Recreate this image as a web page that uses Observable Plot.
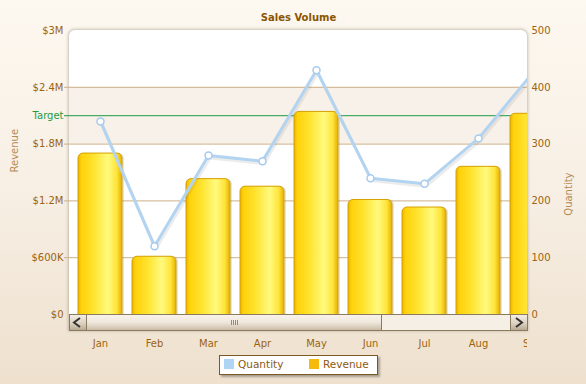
<!DOCTYPE html>
<html>
<head>
<meta charset="utf-8">
<script src="https://cdn.jsdelivr.net/npm/d3@7"></script>
<script src="https://cdn.jsdelivr.net/npm/@observablehq/plot@0.6"></script>
<style>
html, body { margin: 0; padding: 0; }
body {
  width: 586px; height: 384px; overflow: hidden;
  background: linear-gradient(to bottom, #fdf8f0 0%, #f7efe4 50%, #eee0cd 100%);
  font-family: "DejaVu Sans", Verdana, sans-serif;
}
#wrap { position: relative; width: 586px; height: 384px; }
#box {
  position: absolute; left: 69px; top: 30px; width: 458px; height: 300px;
  background: #fff; border-radius: 6px 6px 0 0;
  box-shadow: 0 0 3px 1px rgba(100, 90, 70, 0.35);
}
#chart { position: absolute; left: 0; top: 0; }
#scroll {
  position: absolute; left: 69px; top: 314px; width: 459px; height: 17px;
  box-sizing: border-box; border: 1px solid #8a7a5f; background: #f6efe5;
}
#scroll .btn {
  position: absolute; top: 0; width: 16px; height: 15px;
  background: linear-gradient(to bottom, #f4eee5 0%, #ddd1c0 55%, #b9aa94 100%);
}
#scroll .left { left: 0; border-right: 1px solid #8a7a5f; }
#scroll .right { right: 0; border-left: 1px solid #8a7a5f; }
#scroll .thumb {
  position: absolute; left: 17px; top: 0; width: 294px; height: 15px;
  background: linear-gradient(to bottom, #f8f3ec 0%, #efe7dc 50%, #cbbca7 100%);
  border-right: 1px solid #8a7a5f;
}
#scroll .grip { position: absolute; top: 5px; width: 1px; height: 5px; background: #9a8a70; }
#legend {
  position: absolute; left: 219px; top: 355px; width: 159px; height: 20px;
  box-sizing: border-box; background: #fff; border: 1.5px solid #7a5a20;
  box-shadow: 2px 2px 2px rgba(0,0,0,0.3);
  font-size: 10.5px; color: #8b5a10;
}
#legend .sw { position: absolute; top: 3px; width: 10px; height: 10px; }
#legend .lb { position: absolute; top: 2px; line-height: 12px; }
</style>
</head>
<body>
<div id="wrap">
  <div id="box"></div>
  <div id="chart"></div>
  <div id="scroll">
    <div class="btn left"><svg width="16" height="15"><polyline points="10,3 4,7.5 10,12" fill="none" stroke="#333" stroke-width="2"/></svg></div>
    <div class="thumb">
      <div class="grip" style="left:144px"></div>
      <div class="grip" style="left:146px"></div>
      <div class="grip" style="left:148px"></div>
      <div class="grip" style="left:150px"></div>
    </div>
    <div class="btn right"><svg width="16" height="15"><polyline points="5,3 11,7.5 5,12" fill="none" stroke="#333" stroke-width="2"/></svg></div>
  </div>
  <div id="legend"></div>
</div>
<script>
// ---- Data ----
const months = ["Jan", "Feb", "Mar", "Apr", "May", "Jun", "Jul", "Aug", "Sep"];
const revenue = [1700000, 610000, 1430000, 1350000, 2140000, 1210000, 1130000, 1560000, 2120000];
const quantity = [340, 120, 280, 270, 430, 240, 230, 310, 425];
const revenueTicks = [0, 600000, 1200000, 1800000, 2400000, 3000000];
const revenueTickLabels = ["$0", "$600K", "$1.2M", "$1.8M", "$2.4M", "$3M"];
const quantityTicks = [0, 100, 200, 300, 400, 500];
const targetValue = 2100000;
const targetLabel = "Target";
const zoneFrom = 1800000, zoneTo = 2400000;
const revenueMax = 3000000, quantityMax = 500;
const titleText = "Sales Volume";
const leftTitle = "Revenue", rightTitle = "Quantity";
const seriesNames = ["Quantity", "Revenue"];
const seriesColors = ["#b0d4f3", "#f6ba0c"];

// ---- Styles ----
const labelColor = "#9c640f";
const titleColor = "#8b5500";
const axisTitleColor = "#b48a55";
const gridColor = "#ccb188";
const targetColor = "#1e9a44";

const data = months.map((m, i) => ({month: m, revenue: revenue[i], quantity: quantity[i]}));
const qToY = q => q * revenueMax / quantityMax;
const overhang = revenueMax * 0.03;

const chart = Plot.plot({
  width: 586,
  height: 384,
  marginTop: 30,
  marginBottom: 70,
  marginLeft: 69,
  marginRight: 59,
  style: {background: "transparent", fontFamily: "DejaVu Sans, Verdana, sans-serif", fontSize: "10px", overflow: "visible"},
  x: {type: "band", domain: months, range: [73, 559], paddingInner: 0.185, paddingOuter: 0.0925, label: null},
  y: {domain: [0, revenueMax], label: null},
  marks: [
    Plot.rectY([{from: zoneFrom, to: zoneTo}], {y1: "from", y2: "to", fill: "#f8f1e9"}),
    Plot.ruleY(revenueTicks.slice(1, -1), {stroke: gridColor}),
    Plot.ruleY([targetValue], {stroke: targetColor}),
    Plot.barY(data, {x: "month", y1: () => -overhang, y2: "revenue", fill: "#777", fillOpacity: 0.2, dx: 2, rx: 5, clip: true}),
    Plot.barY(data, {x: "month", y1: () => -overhang, y2: "revenue", fill: "url(#barGrad)", stroke: "#d6a000", strokeWidth: 1, rx: 5, clip: true}),
    Plot.lineY(data, {x: "month", y: d => qToY(d.quantity), stroke: "#777", strokeOpacity: 0.14, strokeWidth: 3, dx: 1.5, dy: 2.5, clip: true}),
    Plot.lineY(data, {x: "month", y: d => qToY(d.quantity), stroke: "#b2d4f1", strokeWidth: 3, clip: true}),
    Plot.dot(data, {x: "month", y: d => qToY(d.quantity), r: 3.5, fill: "white", stroke: "#a6cbee", strokeWidth: 1.5, clip: true}),
    Plot.axisY({anchor: "left", ticks: revenueTicks.slice(1, -1), tickFormat: d => revenueTickLabels[revenueTicks.indexOf(d)], tickSize: 5, tickPadding: 1, stroke: gridColor, fill: labelColor, label: null}),
    Plot.axisY({anchor: "left", ticks: [revenueTicks[0], revenueTicks[revenueTicks.length - 1]], tickFormat: d => revenueTickLabels[revenueTicks.indexOf(d)], tickSize: 0, tickPadding: 6, fill: labelColor, label: null}),
    Plot.axisY({anchor: "left", ticks: [targetValue], tickFormat: () => targetLabel, tickSize: 5, tickPadding: 1, stroke: targetColor, fill: targetColor, label: null}),
    Plot.axisY({anchor: "right", ticks: quantityTicks.map(qToY), tickFormat: d => String(Math.round(d * quantityMax / revenueMax)), tickSize: 0, tickPadding: 4, fill: labelColor, label: null}),
    Plot.axisX({anchor: "bottom", tickSize: 0, tickPadding: 25, fill: labelColor, label: null}),
    Plot.text([titleText], {text: d => d, frameAnchor: "top", dy: -17, fontWeight: "bold", fill: titleColor}),
    Plot.text([leftTitle], {text: d => d, frameAnchor: "left", dx: -55, rotate: -90, fill: axisTitleColor}),
    Plot.text([rightTitle], {text: d => d, frameAnchor: "right", dx: 41, rotate: -90, fill: axisTitleColor})
  ]
});

// gradient defs and clipping of the x tick labels at the plot's right edge
const svg = d3.select(chart);
const defs = svg.insert("defs", ":first-child");
const g = defs.append("linearGradient").attr("id", "barGrad").attr("x1", 0).attr("x2", 1).attr("y1", 0).attr("y2", 0);
[[0, "#e9b400"], [0.08, "#ffd20a"], [0.35, "#ffe32e"], [0.68, "#fffa7e"], [0.88, "#ffe43a"], [1, "#e6b000"]]
  .forEach(([o, c]) => g.append("stop").attr("offset", o).attr("stop-color", c));
defs.append("clipPath").attr("id", "xclip").attr("clipPathUnits", "userSpaceOnUse")
  .append("rect").attr("x", 0).attr("y", 0).attr("width", 527).attr("height", 384);
// move the x-axis tick label group into an untransformed, clipped wrapper
const labelGroups = new Set();
svg.selectAll("text").each(function () {
  if (months.includes(this.textContent)) labelGroups.add(this.parentNode);
});
const wrapper = svg.append("g").attr("clip-path", "url(#xclip)");
labelGroups.forEach(node => wrapper.node().appendChild(node));

document.getElementById("chart").appendChild(chart);

// legend
const legend = d3.select("#legend");
const swLeft = [3.5, 89], lbLeft = [18, 103];
seriesNames.forEach((name, i) => {
  legend.append("div").attr("class", "sw").style("left", swLeft[i] + "px").style("background", seriesColors[i]);
  legend.append("div").attr("class", "lb").style("left", lbLeft[i] + "px").text(name);
});
</script>
</body>
</html>
